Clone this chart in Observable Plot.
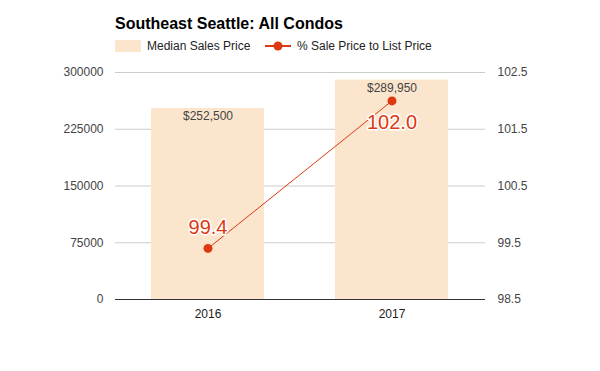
<!DOCTYPE html>
<html>
<head>
<meta charset="utf-8">
<script src="https://cdn.jsdelivr.net/npm/d3@7"></script>
<script src="https://cdn.jsdelivr.net/npm/@observablehq/plot@0.6"></script>
<style>
  body { margin: 0; background: #fff; font-family: Arial, "Liberation Sans", sans-serif; }
  #wrap { width: 600px; height: 371px; position: relative; }
  #head { position: relative; height: 60px; }
  #title { position: absolute; left: 115px; top: 15px; font-size: 16px; font-weight: bold; color: #000; }
  .leg { position: absolute; top: 39px; font-size: 12px; color: #222; display: flex; align-items: center; }
  .sw { width: 26px; height: 12px; background: #fce5cd; margin-right: 6px; }
  .lsw { width: 26px; height: 12px; margin-right: 6px; }
</style>
</head>
<body>
<div id="wrap">
  <div id="head">
    <div id="title">Southeast Seattle: All Condos</div>
    <div class="leg" style="left:115px"><div class="sw"></div>Median Sales Price</div>
    <div class="leg" style="left:265px"><svg class="lsw" width="26" height="12"><line x1="0" y1="6" x2="26" y2="6" stroke="#dc3912" stroke-width="2"/><circle cx="13" cy="6" r="4.5" fill="#dc3912"/></svg>% Sale Price to List Price</div>
  </div>
  <div id="chart"></div>
</div>
<script>
const years = ["2016", "2017"];
const medianPrice = [252500, 289950];
const priceLabels = ["$252,500", "$289,950"];
const pctSaleToList = [99.4, 102.0];
const leftTicks = [0, 75000, 150000, 225000, 300000];
const rightTicks = [98.5, 99.5, 100.5, 101.5, 102.5];

const yMax = 300000;
const pMin = 98.5, pMax = 102.5;
const toY = p => (p - pMin) / (pMax - pMin) * yMax;
const fromY = y => pMin + y / yMax * (pMax - pMin);

const bars = years.map((y, i) => ({year: y, value: medianPrice[i], label: priceLabels[i]}));
const pts = years.map((y, i) => ({year: y, pct: pctSaleToList[i], yv: toY(pctSaleToList[i])}));
const red = "#dc3912";

const chart = Plot.plot({
  width: 600,
  height: 311,
  marginTop: 12,
  marginBottom: 72,
  marginLeft: 115,
  marginRight: 115,
  style: {fontFamily: "Arial, 'Liberation Sans', sans-serif", fontSize: "12px", color: "#444"},
  x: {domain: years, paddingInner: 0.384, paddingOuter: 0.195, label: null},
  y: {domain: [0, yMax], label: null},
  marks: [
    Plot.ruleY(leftTicks, {stroke: "#ccc", strokeWidth: 1}),
    Plot.barY(bars, {x: "year", y: "value", fill: "#fce5cd"}),
    Plot.ruleY([0], {stroke: "#333", strokeWidth: 1}),
    Plot.text(bars, {x: "year", y: "value", text: "label", dy: 8, fill: "#444", fontSize: 12}),
    Plot.line(pts, {x: "year", y: "yv", stroke: red, strokeWidth: 1}),
    Plot.dot(pts, {x: "year", y: "yv", r: 4.5, fill: red}),
    Plot.text(pts, {filter: (d, i) => i === 0, x: "year", y: "yv", text: d => d.pct.toFixed(1), dy: -21, fill: red, fontSize: 20, stroke: "white", strokeWidth: 3, paintOrder: "stroke"}),
    Plot.text(pts, {filter: (d, i) => i === 1, x: "year", y: "yv", text: d => d.pct.toFixed(1), dy: 22, fill: red, fontSize: 20, stroke: "white", strokeWidth: 3, paintOrder: "stroke"}),
    Plot.axisY({anchor: "left", ticks: leftTicks, tickFormat: d3.format("d"), tickSize: 0, tickPadding: 12, label: null, fill: "#444"}),
    Plot.axisY({anchor: "right", ticks: rightTicks.map(toY), tickFormat: v => fromY(v).toFixed(1), tickSize: 0, tickPadding: 12, label: null, fill: "#444"}),
    Plot.axisX({tickSize: 0, tickPadding: 10, label: null, fill: "#222"})
  ]
});
document.getElementById("chart").appendChild(chart);
</script>
</body>
</html>
